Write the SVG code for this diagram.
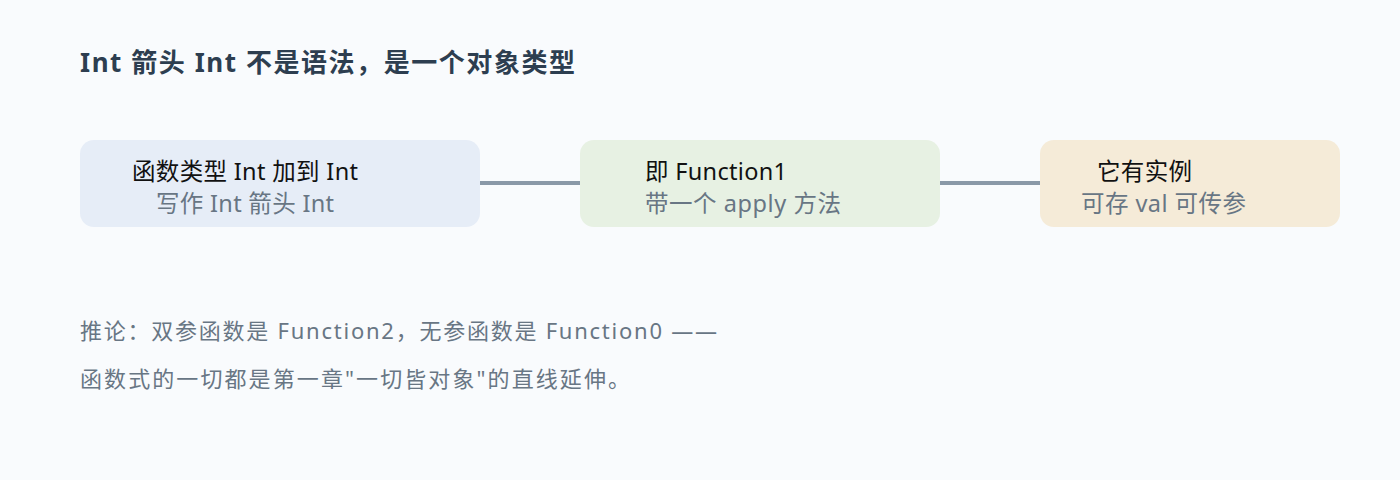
<svg xmlns="http://www.w3.org/2000/svg" width="1400" height="480" viewBox="0 0 1400 480">
<style>
text{font-family:"Noto Sans","Noto Sans CJK SC",sans-serif}
.t1{font-size:23.5px;fill:#111}
.t2{font-size:23.5px;fill:#687684}
.n{font-size:22px;fill:#687684}
.c{stroke:#8a99a8;stroke-width:4}
</style>
<rect width="1400" height="480" fill="#f9fbfd"/>
<text x="80" y="72" textLength="495" style="font-size:26px;font-weight:bold;fill:#2d3e50">Int 箭头 Int 不是语法，是一个对象类型</text>
<g id="connectors">
<line class="c" x1="480" y1="183" x2="580" y2="183"/>
<line class="c" x1="940" y1="183" x2="1040" y2="183"/>
</g>
<g id="n1">
<rect x="80" y="140" width="400" height="87" rx="14" fill="#e6edf7"/>
<text class="t1" x="132" y="180" textLength="226">函数类型 Int 加到 Int</text>
<text class="t2" x="156" y="212" textLength="178">写作 Int 箭头 Int</text>
</g>
<g id="n2">
<rect x="580" y="140" width="360" height="87" rx="14" fill="#e7f1e3"/>
<text class="t1" x="645" y="180" textLength="142">即 Function1</text>
<text class="t2" x="645" y="212" textLength="196">带一个 apply 方法</text>
</g>
<g id="n3">
<rect x="1040" y="140" width="300" height="87" rx="14" fill="#f5ebd8"/>
<text class="t1" x="1097" y="180" textLength="95">它有实例</text>
<text class="t2" x="1081" y="212" textLength="165">可存 val 可传参</text>
</g>
<text class="n" x="80" y="339" textLength="637">推论：双参函数是 Function2，无参函数是 Function0 ——</text>
<text class="n" x="80" y="387" textLength="550">函数式的一切都是第一章"一切皆对象"的直线延伸。</text>
</svg>
